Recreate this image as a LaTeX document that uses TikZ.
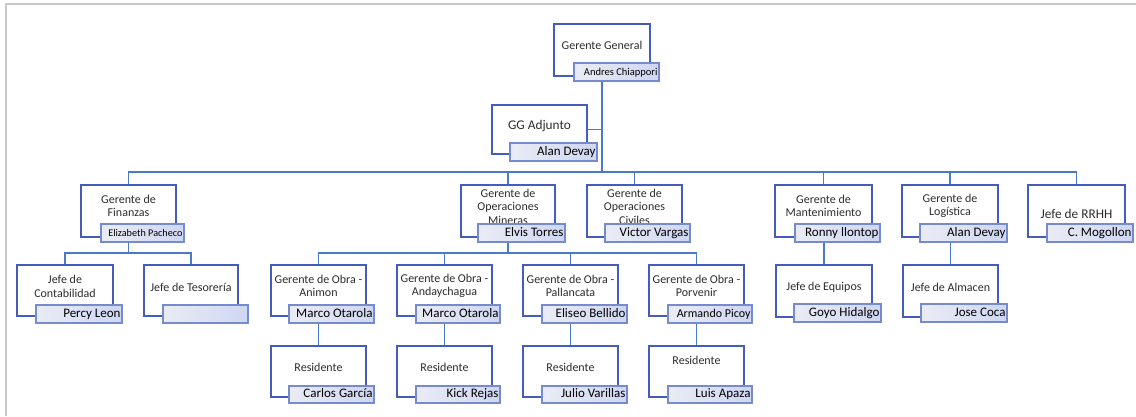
\documentclass[tikz,border=0pt]{standalone}
\usepackage{fontspec}
\setmainfont{Carlito}
\definecolor{borde}{RGB}{68,92,188}
\definecolor{marco}{RGB}{118,138,206}
\definecolor{etiqueta}{RGB}{206,214,242}
\definecolor{etiquetaclara}{RGB}{234,236,244}
\definecolor{conector}{RGB}{72,122,200}
\definecolor{texto}{RGB}{45,45,45}
\definecolor{hoja}{RGB}{200,200,200}
\tikzset{
  cargo/.style={draw=borde, line width=1.6pt, fill=white, minimum height=52pt, inner sep=0pt},
  titulo/.style={align=center, text=texto, inner sep=0pt, font=\fontsize{12}{13.5}\selectfont},
  nombre/.style={draw=marco, line width=1.3pt, left color=etiquetaclara, right color=etiqueta,
    minimum height=18pt, inner xsep=1.5pt, inner ysep=0pt, align=flush right, text height=9.5pt,
    text depth=2.8pt, font=\fontsize{13}{14}\selectfont},
  linea/.style={draw=conector, line width=1.3pt},
}
\begin{document}
\begin{tikzpicture}[x=1pt,y=-1pt]
\useasboundingbox (0,0) rectangle (1136,416);
\draw[hoja, line width=2pt] (6,416) -- (6,4) -- (1136,4);
% gerencia
\node[cargo, minimum width=96pt] (gg) at (602,50) {};
\node[titulo] (gg-t) at (602,45) {Gerente General};
\node[nombre, text width=82pt, font=\fontsize{10.5}{12}\selectfont] (gg-n) at (616.5,72) {Andres Chiappori};
\node[cargo, minimum width=95pt, minimum height=49pt] (adj) at (539.5,129.5) {};
\node[titulo, font=\fontsize{13.3}{15}\selectfont] (adj-t) at (539.5,126) {GG Adjunto};
\node[nombre, text width=84pt] (adj-n) at (553.5,152) {Alan Devay};
% gerentes de area
\node[cargo, minimum width=95pt] (fin) at (128.5,211) {};
\node[titulo] (fin-t) at (128.5,206) {Gerente de\\Finanzas};
\node[nombre, text width=80pt, font=\fontsize{10.2}{12}\selectfont] (fin-n) at (142.5,233) {Elizabeth Pacheco};
\node[cargo, minimum width=94pt] (mine) at (508,211) {};
\node[titulo] (mine-t) at (508,206.5) {Gerente de\\Operaciones\\Mineras};
\node[nombre, text width=84pt] (mine-n) at (521.5,233) {Elvis Torres};
\node[cargo, minimum width=95pt] (civ) at (634.5,211) {};
\node[titulo] (civ-t) at (634.5,206.5) {Gerente de\\Operaciones\\Civiles};
\node[nombre, text width=82pt] (civ-n) at (647.5,233) {Victor Vargas};
\node[cargo, minimum width=97pt] (man) at (823.5,211) {};
\node[titulo] (man-t) at (823.5,206) {Gerente de\\Mantenimiento};
\node[nombre, text width=82pt] (man-n) at (837.5,233) {Ronny llontop};
\node[cargo, minimum width=96pt] (log) at (950,211) {};
\node[titulo] (log-t) at (950,206) {Gerente de\\Logística};
\node[nombre, text width=84pt] (log-n) at (963.5,233) {Alan Devay};
\node[cargo, minimum width=97pt] (rrhh) at (1076.5,211) {};
\node[titulo, font=\fontsize{13.3}{15}\selectfont] (rrhh-t) at (1076.5,214) {Jefe de RRHH};
\node[nombre, text width=83pt] (rrhh-n) at (1090,233) {C. Mogollon};
% jefes y gerentes de obra
\node[cargo, minimum width=96pt, minimum height=51pt] (con) at (65,290.5) {};
\node[titulo] (con-t) at (65,286.5) {Jefe de\\Contabilidad};
\node[nombre, text width=83pt] (con-n) at (79,314) {Percy Leon};
\node[cargo, minimum width=94pt, minimum height=51pt] (tes) at (191,290.5) {};
\node[titulo] (tes-t) at (191,287) {Jefe de Tesorería};
\node[nombre, text width=82pt] (tes-n) at (205.5,314) {};
\node[cargo, minimum width=95pt, minimum height=51pt] (ani) at (318.5,290.5) {};
\node[titulo] (ani-t) at (318.5,286) {Gerente de Obra -\\Animon};
\node[nombre, text width=82pt] (ani-n) at (331.5,314) {Marco Otarola};
\node[cargo, minimum width=95pt, minimum height=51pt] (anday) at (444.5,290.5) {};
\node[titulo] (anday-t) at (444.5,286) {Gerente de Obra -\\Andaychagua};
\node[nombre, text width=81pt] (anday-n) at (458,314) {Marco Otarola};
\node[cargo, minimum width=95pt, minimum height=51pt] (pal) at (570.5,290.5) {};
\node[titulo] (pal-t) at (570.5,286) {Gerente de Obra -\\Pallancata};
\node[nombre, text width=82pt] (pal-n) at (584.5,314) {Eliseo Bellido};
\node[cargo, minimum width=95pt, minimum height=51pt] (por) at (696.5,290.5) {};
\node[titulo] (por-t) at (696.5,286) {Gerente de Obra -\\Porvenir};
\node[nombre, text width=81pt, font=\fontsize{12}{13}\selectfont] (por-n) at (710,314) {Armando Picoy};
\node[cargo, minimum width=96pt] (equ) at (824,291) {};
\node[titulo] (equ-t) at (824,287) {Jefe de Equipos};
\node[nombre, text width=84pt] (equ-n) at (837.5,313) {Goyo Hidalgo};
\node[cargo, minimum width=95pt] (alm) at (950.5,291) {};
\node[titulo] (alm-t) at (950.5,287) {Jefe de Almacen};
\node[nombre, text width=83pt] (alm-n) at (964,313) {Jose Coca};
% residentes
\node[cargo, minimum width=95pt, minimum height=51pt] (res1) at (318.5,371.5) {};
\node[titulo] (res1-t) at (318.5,367) {Residente};
\node[nombre, text width=82pt, minimum height=17pt] (res1-n) at (331.5,394.5) {Carlos García};
\node[cargo, minimum width=95pt, minimum height=51pt] (res2) at (444.5,371.5) {};
\node[titulo] (res2-t) at (444.5,367) {Residente};
\node[nombre, text width=81pt, minimum height=17pt] (res2-n) at (458,394.5) {Kick Rejas};
\node[cargo, minimum width=95pt, minimum height=51pt] (res3) at (570.5,371.5) {};
\node[titulo] (res3-t) at (570.5,367) {Residente};
\node[nombre, text width=82pt, minimum height=17pt] (res3-n) at (584.5,394.5) {Julio Varillas};
\node[cargo, minimum width=95pt, minimum height=51pt] (res4) at (696.5,371.5) {};
\node[titulo] (res4-t) at (696.5,360) {Residente};
\node[nombre, text width=81pt, minimum height=17pt] (res4-n) at (710,394.5) {Luis Apaza};
% conectores
\coordinate (bus) at (602,172);
\coordinate (bfin) at (128.5,253);
\coordinate (bmine) at (508,253);
\draw[linea] (gg-n.south -| gg) -- (bus);
\draw[linea] (adj.east) -- (adj.east -| gg);
\draw[linea] (fin.north) |- (bus) -| (rrhh.north);
\draw[linea] (mine |- bus) -- (mine.north);
\draw[linea] (civ |- bus) -- (civ.north);
\draw[linea] (man |- bus) -- (man.north);
\draw[linea] (log |- bus) -- (log.north);
\draw[linea] (fin-n.south -| fin) -- (bfin);
\draw[linea] (con.north) |- (bfin) -| (tes.north);
\draw[linea] (mine-n.south -| mine) -- (bmine);
\draw[linea] (ani.north) |- (bmine) -| (por.north);
\draw[linea] (anday |- bmine) -- (anday.north);
\draw[linea] (pal |- bmine) -- (pal.north);
\draw[linea] (ani-n.south -| ani) -- (res1.north);
\draw[linea] (anday-n.south -| anday) -- (res2.north);
\draw[linea] (pal-n.south -| pal) -- (res3.north);
\draw[linea] (por-n.south -| por) -- (res4.north);
\draw[linea] (man-n.south -| equ) -- (equ.north);
\draw[linea] (log-n.south -| alm) -- (alm.north);
\end{tikzpicture}
\end{document}
